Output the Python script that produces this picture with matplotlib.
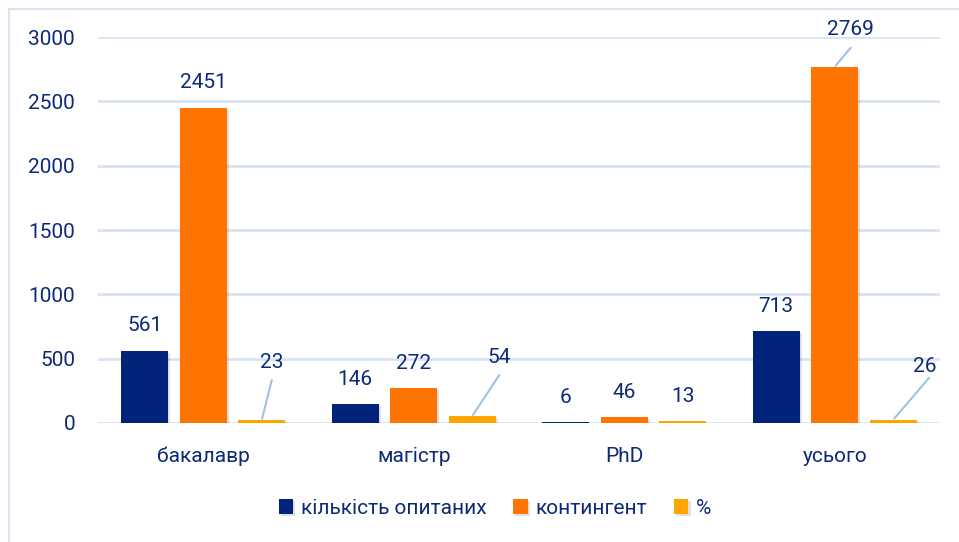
import matplotlib.pyplot as plt
import matplotlib.patheffects as pe
from matplotlib.lines import Line2D
import numpy as np

plt.rcParams['font.family'] = ['Roboto', 'DejaVu Sans']

# data
categories = ['бакалавр', 'магістр', 'PhD', 'усього']
surveyed = [561, 146, 6, 713]
contingent = [2451, 272, 46, 2769]
percent = [23, 54, 13, 26]
series_names = ['кількість опитаних', 'контингент', '%']

colors = ['#02237a', '#ff7300', '#ffa500']
text_c = '#0d2a78'
grid_c = '#d9e4f2'
leader_c = '#9dc3e6'

# labels that were dragged away from the bar (series, category): label / leader end offsets in px
moved_label = {(2, 0): (10, 58), (2, 1): (27, 59), (1, 3): (16, 37), (2, 3): (31, 53)}
leader_end = {(2, 0): (10, 40), (2, 1): (27, 41), (1, 3): (16, 19), (2, 3): (36, 42)}

fig = plt.figure(figsize=(9.59, 5.42), dpi=100)
ax = fig.add_axes([98 / 959, 1 - 423 / 542, 842 / 959, (423 - 37) / 542])

x = np.arange(len(categories))
width = 0.223
step = 0.278
shadow = [pe.SimplePatchShadow(offset=(1.5, -1.5), shadow_rgbFace='#000000', alpha=0.12), pe.Normal()]

for s, vals in enumerate([surveyed, contingent, percent]):
    bars = ax.bar(x + (s - 1) * step, vals, width, color=colors[s], label=series_names[s],
                  zorder=3, path_effects=shadow)
    for c, b in enumerate(bars):
        bx = b.get_x() + b.get_width() / 2
        by = b.get_height()
        dx, dy = moved_label.get((s, c), (0, 25))
        ax.annotate(str(vals[c]), (bx, by), xytext=(dx, dy), textcoords='offset pixels',
                    ha='center', va='center', fontsize=15, color=text_c, zorder=5)
        if (s, c) in leader_end:
            lx, ly = leader_end[(s, c)]
            ax.annotate('', (bx, by), xytext=(lx, ly), textcoords='offset pixels',
                        arrowprops=dict(arrowstyle='-', color=leader_c, lw=1.5,
                                        shrinkA=0, shrinkB=1), zorder=4)

ax.set_xlim(-0.5, 3.5)
ax.set_ylim(0, 3000)
ax.set_yticks(range(0, 3001, 500))
ax.set_xticks(x)
ax.set_xticklabels(categories)
ax.tick_params(axis='both', length=0, labelsize=15, labelcolor=text_c)
ax.tick_params(axis='y', pad=16.5)
ax.tick_params(axis='x', pad=17)
ax.yaxis.grid(True, color=grid_c, lw=2)
ax.set_axisbelow(True)
for sp in ax.spines.values():
    sp.set_visible(False)

leg = fig.legend(loc='center', bbox_to_anchor=(0.516, 1 - 508 / 542), ncol=3, frameon=False,
                 fontsize=15, handlelength=0.7, handleheight=0.7, handletextpad=0.35,
                 columnspacing=1.3)
for t in leg.get_texts():
    t.set_color(text_c)

# light frame around the chart area
fig.add_artist(Line2D([9 / 959, 9 / 959], [0, 1 - 9 / 542], color=grid_c, lw=1.5))
fig.add_artist(Line2D([9 / 959, 1], [1 - 9 / 542, 1 - 9 / 542], color=grid_c, lw=1.5))

fig.savefig('out.png', dpi=100)
